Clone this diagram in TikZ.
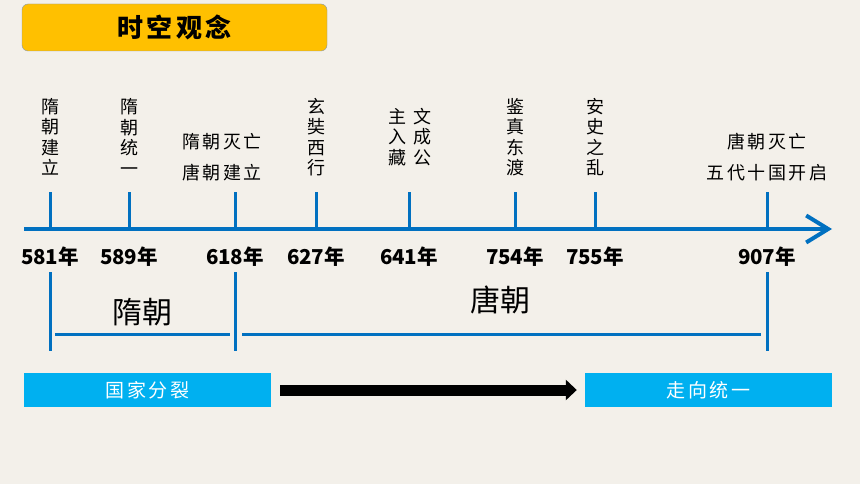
\documentclass[tikz,border=0pt]{standalone}
\usepackage{fontspec}
\setmainfont{Noto Sans CJK SC}
\newfontfamily\evfont[LetterSpace=14]{Noto Sans CJK SC}
\usetikzlibrary{arrows.meta, positioning}
\definecolor{paper}{RGB}{243,240,234}
\definecolor{lineblue}{RGB}{0,112,192}
\definecolor{boxblue}{RGB}{0,176,240}
\definecolor{titleyellow}{RGB}{255,192,0}
\definecolor{titleedge}{RGB}{132,151,176}
\tikzset{
  tickline/.style={draw=lineblue, line width=3pt},
  spanline/.style={draw=lineblue, line width=3pt},
  year/.style={font=\fontsize{20.5}{22}\selectfont\bfseries, inner sep=0pt},
  vlabel/.style={font=\evfont\fontsize{18}{20.5}\selectfont, align=center, inner sep=0pt},
  hlabel/.style={font=\evfont\fontsize{18}{31}\selectfont, align=center, inner sep=0pt},
  dynasty/.style={font=\fontsize{30}{32}\selectfont, inner sep=0pt},
  blockbox/.style={fill=boxblue, text=white, minimum width=247pt, minimum height=34pt,
    inner sep=0pt, font=\evfont\fontsize{19}{21}\selectfont},
}

\begin{document}
\begin{tikzpicture}[x=1pt, y=-1pt]
    \fill[paper] (0,0) rectangle (860,484);
    \useasboundingbox (0,0) rectangle (860,484);

    \node[fill=titleyellow, draw=titleedge, rounded corners=6pt, minimum width=305pt,
        minimum height=47pt, inner sep=0pt, font=\evfont\fontsize{26}{28}\selectfont\bfseries]
        (title) at (174.5,27.5) {时空观念};

    \coordinate (start) at (24,229);
    \coordinate (end) at (832,229);
    \draw[lineblue, line width=4pt, -{Straight Barb[length=22pt, width=27pt]}] (start) -- (end);

    \foreach \x/\yr in {50/581, 129/589, 235/618, 316/627, 409/641, 515/754, 595/755, 767/907} {
        \coordinate (b\yr) at (\x,229);
        \coordinate (t\yr) at (\x,192);
        \draw[tickline] (b\yr) -- (t\yr);
        \node[year] (y\yr) at (\x,257) {\yr{}年};
    }

    \node[vlabel] (ev581) at (50,137) {隋\\朝\\建\\立};
    \node[vlabel] (ev589) at (129,137) {隋\\朝\\统\\一};
    \node[hlabel] (ev618) at (222,157) {隋朝灭亡\\唐朝建立};
    \node[vlabel] (ev627) at (316,137) {玄\\奘\\西\\行};
    \node[vlabel] (ev641a) at (422,137) {文\\成\\公};
    \node[vlabel] (ev641b) at (397,137) {主\\入\\藏};
    \node[vlabel] (ev754) at (515,137) {鉴\\真\\东\\渡};
    \node[vlabel] (ev755) at (595,137) {安\\史\\之\\乱};
    \node[hlabel] (ev907) at (767,157) {唐朝灭亡\\五代十国开启};

    \foreach \x/\yr in {50/581, 235/618, 767/907} {
        \coordinate (pt\yr) at (\x,272);
        \coordinate (pb\yr) at (\x,351);
        \draw[tickline] (pt\yr) -- (pb\yr);
    }
    \coordinate (suiL) at (55,334);
    \coordinate (suiR) at (230,334);
    \coordinate (tangL) at (242,334);
    \coordinate (tangR) at (761,334);
    \draw[spanline] (suiL) -- (suiR);
    \draw[spanline] (tangL) -- (tangR);
    \node[dynasty] (sui) at (142,312) {隋朝};
    \node[dynasty] (tang) at (500,300) {唐朝};

    \node[blockbox] (fenlie) at (147.5,390) {国家分裂};
    \node[blockbox] (tongyi) at (708.5,390) {走向统一};
    \draw[line width=11pt, -{Triangle[length=11pt, width=20pt]}]
        ([xshift=9pt]fenlie.east) -- ([xshift=-8pt]tongyi.west);
\end{tikzpicture}
\end{document}
